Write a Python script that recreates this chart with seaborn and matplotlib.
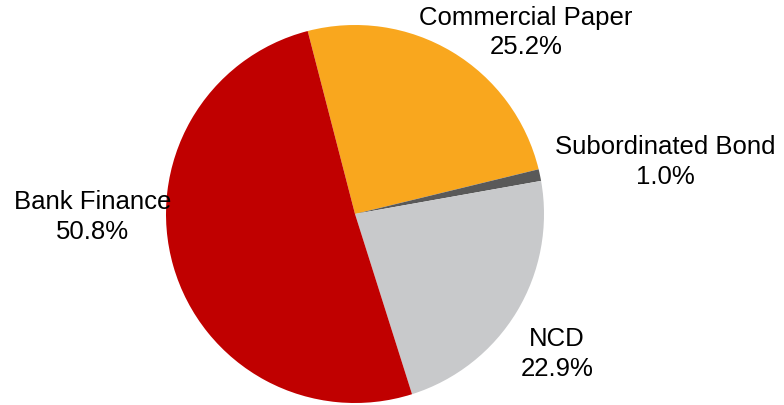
import matplotlib
matplotlib.use("Agg")
import matplotlib.pyplot as plt
import seaborn as sns

categories = ['Commercial Paper', 'Subordinated Bond', 'NCD', 'Bank Finance']
shares = [25.2, 1.0, 22.9, 50.8]
sliceColors = ['#F9A71E', '#595959', '#C8C9CB', '#C00000']

sns.set_style("white")
plt.rcParams['font.family'] = ['Liberation Sans', 'DejaVu Sans']

fig = plt.figure(figsize=(7.84, 4.06), dpi=100)
# pie centre ~ (355, 215) px, radius ~189 px
ax = fig.add_axes([(355 - 189) / 784, (406 - 215 - 189) / 406, 378 / 784, 378 / 406])
ax.pie(shares, colors=sliceColors, startangle=104.5, counterclock=False,
       wedgeprops=dict(linewidth=0))
ax.set_xlim(-1, 1)
ax.set_ylim(-1, 1)

# label positions in pie units (hand placed, like the original chart)
labelPos = {
    'Commercial Paper': (0.905, 0.965),
    'Subordinated Bond': (1.64, 0.28),
    'NCD': (1.07, -0.735),
    'Bank Finance': (-1.39, -0.01),
}
for cat, val in zip(categories, shares):
    x, y = labelPos[cat]
    ax.text(x, y, f"{cat}\n{val:.1f}%", ha='center', va='center', fontsize=18.5,
            linespacing=1.3, color='black', clip_on=False)

ax.set_axis_off()
plt.savefig('out.png', dpi=100)
